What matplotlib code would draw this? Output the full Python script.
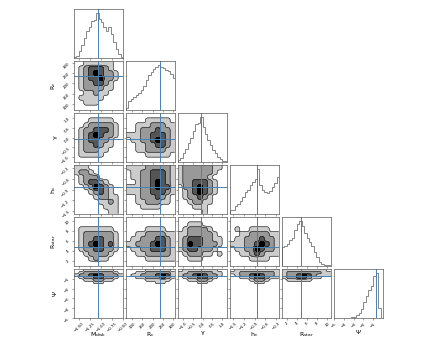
"""
corner plot of the disk fit posterior (6 parameters)
"""
import matplotlib
matplotlib.use("Agg")
import matplotlib.pyplot as plt
import numpy as np

LABELS = ["M$_{\\rm disk}$", "R$_{\\rm c}$", "γ", "h$_{\\rm c}$", "R$_{\\rm star}$", "Ψ"]
RANGES = [(-1.61, -0.5), (70, 310), (-1.25, 1.25), (-1.58, -0.22), (1.0, 10.75), (-5.0, 0.0)]
TICKS = [
    [-1.5, -1.25, -1.0, -0.75, -0.5],
    [100, 150, 200, 250, 300],
    [-1.0, -0.5, 0.0, 0.5, 1.0],
    [-1.5, -1.2, -0.9, -0.6, -0.3],
    [2, 4, 6, 8, 10],
    [-5, -4, -3, -2, -1],
]
TRUTHS = [-1.06, 236, -0.1, -0.83, 4.7, -0.75]

# 1D marginals (relative bin heights, 20 bins over each range)
HIST_MDISK = [0.03, 0.05, 0.15, 0.30, 0.45, 0.60, 0.70, 0.82, 0.85, 1.00,
              0.88, 0.80, 0.70, 0.60, 0.70, 0.55, 0.35, 0.20, 0.08, 0.03]
HIST_RC = [0.05, 0.20, 0.25, 0.30, 0.33, 0.38, 0.45, 0.55, 0.68, 0.78,
           0.85, 0.92, 0.97, 1.00, 0.97, 0.95, 0.90, 0.88, 0.80, 0.72]
HIST_GAMMA = [0.04, 0.10, 0.20, 0.30, 0.42, 0.55, 0.70, 0.85, 0.88, 1.00,
              0.78, 0.62, 0.50, 0.38, 0.28, 0.20, 0.12, 0.06, 0.03, 0.02]
HIST_HC = [0.10, 0.10, 0.18, 0.22, 0.30, 0.38, 0.50, 0.55, 0.65, 0.72,
           0.78, 1.00, 0.65, 0.55, 0.50, 0.48, 0.52, 0.60, 0.70, 0.82]
HIST_RSTAR = [0.42, 0.45, 0.50, 0.58, 0.62, 0.80, 0.95, 1.00, 0.90, 0.75,
              0.62, 0.55, 0.45, 0.32, 0.20, 0.10, 0.05, 0.03, 0.03, 0.02]
HIST_PSI = [0.00, 0.00, 0.00, 0.00, 0.00, 0.01, 0.01, 0.02, 0.03, 0.06,
            0.12, 0.20, 0.35, 0.50, 0.62, 0.72, 0.95, 1.00, 0.22, 0.00]
HISTS = [HIST_MDISK, HIST_RC, HIST_GAMMA, HIST_HC, HIST_RSTAR, HIST_PSI]

# 2D credible-region levels (0 = outside, 4 = core),
# rows run top -> bottom, columns left -> right
DENS = {
    (1, 0): ["0011111100", "0123332100", "0123432210", "0123342210", "0122332100",
             "0122221100", "0011211000", "0111110000", "0011100000", "0000000000"],
    (2, 0): ["0000000000", "0001111100", "0012222210", "0122333210", "0123432210",
             "0123322100", "0122321100", "0122211000", "0111110000", "0000000000"],
    (3, 0): ["1110000000", "1221000000", "0122200000", "0123321000", "0012432100",
             "0001232100", "0000122110", "0000011210", "0000001110", "0000000110"],
    (4, 0): ["0000000000", "0000000000", "0111111100", "0122222210", "0122332210",
             "0123432310", "0122332210", "0012222100", "0001211000", "0000000000"],
    (5, 0): ["0011111100", "0122222210", "1223432221", "0122332210", "0011221100",
             "0000110000"] + ["0000000000"] * 14,
    (2, 1): ["0000000000", "0000111110", "0011122211", "0012223221", "1112233321",
             "0112234321", "0011223321", "0011222211", "0000111110", "0000000000"],
    (3, 1): ["1111222221", "0112233321", "0112233321", "0012234321", "1112234331",
             "1112233321", "0012223210", "0011222110", "0001111000", "0000000000"],
    (4, 1): ["0000000000", "0000000000", "0000111100", "0011222211", "0112223321",
             "1122234321", "0112233321", "0011222221", "0000111111", "0000000000"],
    (5, 1): ["0000111110", "0011222221", "0112223431", "0011222321", "0000111110",
             "0000001100"] + ["0000000000"] * 14,
    (3, 2): ["1222222110", "1222222100", "1222221000", "1223332100", "0223432100",
             "0123432100", "0122321000", "0012211000", "0001110000", "0000010000"],
    (4, 2): ["0000000000", "0011100000", "0122221000", "1122222100", "1233322110",
             "1243322210", "1233222100", "0122211010", "0011100000", "0000000000"],
    (5, 2): ["0111111100", "1122222110", "1223432210", "0122332100", "0011221000",
             "0000110000"] + ["0000000000"] * 14,
    (4, 3): ["0000000000", "0000000000", "0100111100", "0011222211", "0112223221",
             "1112234321", "0112243221", "0011232111", "0000111100", "0000000000"],
    (5, 3): ["0111111111", "1122222221", "0122343221", "0011233211", "0000122100",
             "0000011000"] + ["0000000000"] * 14,
    (5, 4): ["1111111110", "1222222211", "1223432111", "1223321100", "0111110000",
             "0000000000"] + ["0000000000"] * 14,
}

FILLS = ["#cccccc", "#999999", "#555555", "#000000"]
TRUTH_COLOR = "#4682b4"


def grid_of(rows, up=60):
    """level grid -> finer block grid, lightly smoothed so contours look rounded"""
    g = np.array([[int(c) for c in r] for r in rows], dtype=float)
    fr, fc = up // g.shape[0], up // g.shape[1]
    g = np.kron(g, np.ones((fr, fc)))
    for axis, f in ((0, fr), (1, fc)):
        s = 0.22 * f
        r = max(2, int(3 * s) + 1)
        k = np.exp(-0.5 * (np.arange(-r, r + 1) / s) ** 2)
        k /= k.sum()
        pad = [(0, 0), (0, 0)]
        pad[axis] = (r, r)
        gp = np.pad(g, pad, mode="edge")
        g = np.apply_along_axis(lambda v: np.convolve(v, k, mode="valid"), axis, gp)
    return g


def style_axis(ax):
    for s in ax.spines.values():
        s.set_linewidth(0.5)
        s.set_color("0.35")
    ax.tick_params(length=1.5, width=0.4, labelsize=2.8, pad=1, color="0.35")


def main():
    n = len(LABELS)
    fig = plt.figure(figsize=(4.4, 3.4), dpi=100)
    W, H = 440.0, 340.0
    x0, y0, pw, ph, gx, gy = 74, 9, 49, 49, 3, 3

    for i in range(n):
        for j in range(i + 1):
            left = (x0 + j * (pw + gx)) / W
            bottom = 1 - (y0 + i * (ph + gy) + ph) / H
            ax = fig.add_axes([left, bottom, pw / W, ph / H])
            style_axis(ax)
            xr = RANGES[j]
            if i == j:
                h = np.array(HISTS[i])
                edges = np.linspace(xr[0], xr[1], len(h) + 1)
                ax.stairs(h, edges, color="0.45", lw=0.6)
                ax.axvline(TRUTHS[i], color=TRUTH_COLOR, lw=0.7)
                ax.set_ylim(0, 1.1 * h.max())
                ax.set_yticks([])
            else:
                yr = RANGES[i]
                g = grid_of(DENS[(i, j)])
                nr, nc = g.shape
                xs = xr[0] + (np.arange(nc) + 0.5) / nc * (xr[1] - xr[0])
                ys = yr[1] - (np.arange(nr) + 0.5) / nr * (yr[1] - yr[0])
                ax.contourf(xs, ys, g, levels=[0.5, 1.5, 2.5, 3.5, 4.5], colors=FILLS)
                ax.contour(xs, ys, g, levels=[0.5, 1.5, 2.5, 3.5], colors="k",
                           linewidths=0.35)
                ax.axvline(TRUTHS[j], color=TRUTH_COLOR, lw=0.7)
                ax.axhline(TRUTHS[i], color=TRUTH_COLOR, lw=0.7)
                ax.set_ylim(*yr)
                ax.set_yticks(TICKS[i])
                if j == 0:
                    ax.set_ylabel(LABELS[i], fontsize=4.5)
                    ax.yaxis.set_label_coords(-0.33, 0.5)
                    for lab in ax.get_yticklabels():
                        lab.set_rotation(45)
                else:
                    ax.set_yticklabels([])
            ax.set_xlim(*xr)
            ax.set_xticks(TICKS[j])
            if i == n - 1:
                ax.set_xlabel(LABELS[j], fontsize=4.5)
                ax.xaxis.set_label_coords(0.5, -0.25)
                for lab in ax.get_xticklabels():
                    lab.set_rotation(45)
            else:
                ax.set_xticklabels([])

    fig.savefig("out.png", dpi=100)
    plt.close(fig)


if __name__ == "__main__":
    main()
